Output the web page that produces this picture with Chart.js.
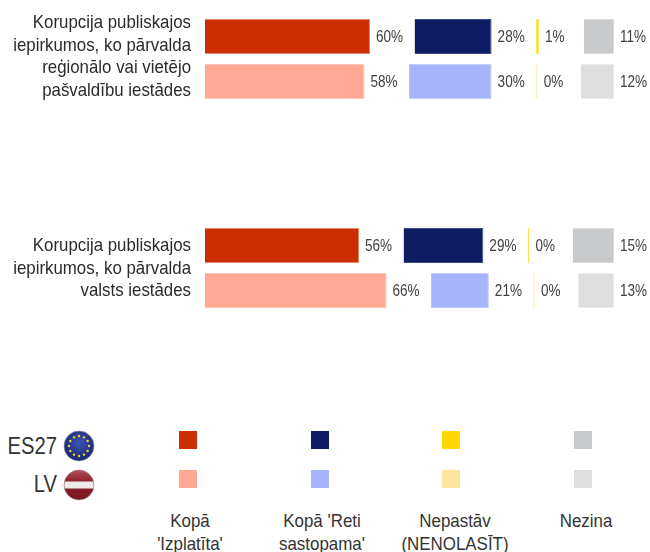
<!DOCTYPE html>
<html lang="lv">
<head>
    <meta charset="UTF-8">
    <title>Korupcija publiskajos iepirkumos</title>
    <script src="https://cdn.jsdelivr.net/npm/chart.js"></script>
    <style>
        html, body { margin: 0; padding: 0; background: #fff; }
        body { position: relative; width: 650px; height: 552px; overflow: hidden; font-family: "Liberation Sans", Arial, sans-serif; color: #333; }
        canvas { position: absolute; left: 0; }
        .question { position: absolute; left: -50px; width: 241px; text-align: right; font-size: 18.5px; line-height: 22.7px; white-space: nowrap; transform: scaleX(0.91); transform-origin: right center; color: #2b2b2b; }
        .area { position: absolute; left: 0; width: 57px; text-align: right; font-size: 23px; line-height: 30px; transform: scaleX(0.88); transform-origin: right center; }
        .swatch { position: absolute; width: 18px; height: 18px; }
        .legendText { position: absolute; width: 160px; text-align: center; font-size: 18.4px; line-height: 22.5px; top: 510px; white-space: nowrap; transform: scaleX(0.92); }
        svg { position: absolute; left: 63px; }
    </style>
</head>
<body>
    <svg width="32" height="32" viewBox="0 0 32 32" style="top:430px">
        <defs>
            <radialGradient id="euBlue" cx="50%" cy="40%" r="60%"><stop offset="0" stop-color="#3d55b8"/><stop offset="1" stop-color="#16246e"/></radialGradient>
            <linearGradient id="lvRed" x1="0" y1="0" x2="0" y2="1"><stop offset="0" stop-color="#b5555c"/><stop offset="0.4" stop-color="#8e1f2a"/><stop offset="1" stop-color="#7c1620"/></linearGradient>
            <clipPath id="disc"><circle cx="16" cy="16" r="15"/></clipPath>
        </defs>
        <circle cx="16" cy="16" r="15" fill="url(#euBlue)" stroke="#8a8fa8" stroke-width="0.7"/>
        <g id="euStars" fill="#f4d21f"></g>
    </svg>
    <svg width="32" height="32" viewBox="0 0 32 32" style="top:469px">
        <g clip-path="url(#disc)">
            <rect width="32" height="32" fill="url(#lvRed)"/>
            <rect y="12.5" width="32" height="7" fill="#efe9e9"/>
        </g>
        <circle cx="16" cy="16" r="15" fill="none" stroke="#9a8a8c" stroke-width="0.7"/>
    </svg>
    <script>
        const areas = ['ES27', 'LV'];
        const questions = [
            ['Korupcija publiskajos', 'iepirkumos, ko pārvalda', 'reģionālo vai vietējo', 'pašvaldību iestādes'],
            ['Korupcija publiskajos', 'iepirkumos, ko pārvalda', 'valsts iestādes']
        ];
        const responses = [["Kopā", "'Izplatīta'"], ["Kopā 'Reti", "sastopama'"], ['Nepastāv', '(NENOLASĪT)'], ['Nezina']];

        // one pair per question: ES27, LV
        const izplatita = [[60, 58], [56, 66]];
        const retiSastopama = [[28, 30], [29, 21]];
        const nepastav = [[1, 0], [0, 0]];
        const nezina = [[11, 12], [15, 13]];

        const colors = {
            izplatita: ['#cb2e02', '#ffa894'],
            reti: ['#0e1c64', '#a6b4fb'],
            nepastav: ['#ffd800', '#fbe49c'],
            nezina: ['#c8c9cb', '#dedede']
        };
        const edges = {
            izplatita: ['#e5876d', '#ffc6b8'],
            reti: ['#3f4b8a', '#c3ccfc'],
            nepastav: ['#ffe14d', '#fdeec0'],
            nezina: ['#dcdcde', '#ebebeb']
        };

        const AXIS_MAX = 148.7;   // whole panel width, in percentage points
        const GAP = 16.2;         // empty space between the answer columns

        const valueLabels = {
            id: 'valueLabels',
            afterDatasetsDraw(chart) {
                const ctx = chart.ctx;
                ctx.save();
                ctx.fillStyle = '#404040';
                ctx.textBaseline = 'middle';
                ctx.font = '16.5px "Liberation Sans", Arial, sans-serif';
                chart.data.datasets.forEach((ds, d) => {
                    chart.getDatasetMeta(d).data.forEach((bar, i) => {
                        ctx.save();
                        ctx.translate(bar.x + 6, bar.y + 1);
                        ctx.scale(0.82, 1);
                        ctx.fillText(ds.values[i] + '%', 0, 0);
                        ctx.restore();
                    });
                });
                ctx.restore();
            }
        };

        function panel(q, top) {
            const canvas = document.createElement('canvas');
            canvas.style.top = top + 'px';
            canvas.width = 650;
            canvas.height = 90;
            document.body.appendChild(canvas);

            const red = izplatita[q], blue = retiSastopama[q], yellow = nepastav[q], gray = nezina[q];
            const blueStart = red.map(v => v + GAP);
            const yellowStart = blue.map((v, i) => blueStart[i] + v + GAP);

            new Chart(canvas.getContext('2d'), {
                type: 'bar',
                data: {
                    labels: areas,
                    datasets: [
                        { values: red, data: red.map(v => [0, v]), backgroundColor: colors.izplatita, borderColor: edges.izplatita },
                        { values: blue, data: blue.map((v, i) => [blueStart[i], blueStart[i] + v]), backgroundColor: colors.reti, borderColor: edges.reti },
                        { values: yellow, data: yellow.map((v, i) => [yellowStart[i], yellowStart[i] + v]), backgroundColor: colors.nepastav, borderColor: edges.nepastav, minBarLength: 1.5 },
                        { values: gray, data: gray.map(v => [AXIS_MAX - v, AXIS_MAX]), backgroundColor: colors.nezina, borderColor: edges.nezina }
                    ]
                },
                options: {
                    indexAxis: 'y',
                    responsive: false,
                    animation: false,
                    layout: { padding: { left: 205, right: 36, top: 0, bottom: 0 } },
                    datasets: { bar: { grouped: false, categoryPercentage: 1, barPercentage: 0.78, borderWidth: 1 } },
                    plugins: { legend: { display: false }, tooltip: { enabled: false } },
                    scales: {
                        x: { display: false, min: 0, max: AXIS_MAX },
                        y: { display: false }
                    }
                },
                plugins: [valueLabels]
            });
        }

        panel(0, 13.5);
        panel(1, 222.5);

        function addDiv(cls, html, css) {
            const el = document.createElement('div');
            el.className = cls;
            el.innerHTML = html;
            Object.assign(el.style, css);
            document.body.appendChild(el);
        }

        addDiv('question', questions[0].join('<br>'), { top: '11px' });
        addDiv('question', questions[1].join('<br>'), { top: '234px' });
        addDiv('area', areas[0], { top: '431px' });
        addDiv('area', areas[1], { top: '469px' });

        // legend
        const legendX = [179, 311, 442, 574];
        const legendCenter = [190, 322, 455, 586];
        [colors.izplatita, colors.reti, colors.nepastav, colors.nezina].forEach((pair, c) => {
            addDiv('swatch', '', { left: legendX[c] + 'px', top: '431px', background: pair[0] });
            addDiv('swatch', '', { left: legendX[c] + 'px', top: '470px', background: pair[1] });
            addDiv('legendText', responses[c].join('<br>'), { left: (legendCenter[c] - 80) + 'px' });
        });

        // EU flag stars
        const stars = document.getElementById('euStars');
        for (let i = 0; i < 12; i++) {
            const a = i * Math.PI / 6;
            const s = document.createElementNS('http://www.w3.org/2000/svg', 'circle');
            s.setAttribute('cx', 16 + 10 * Math.cos(a));
            s.setAttribute('cy', 16 + 10 * Math.sin(a));
            s.setAttribute('r', 1.2);
            stars.appendChild(s);
        }
    </script>
</body>
</html>
